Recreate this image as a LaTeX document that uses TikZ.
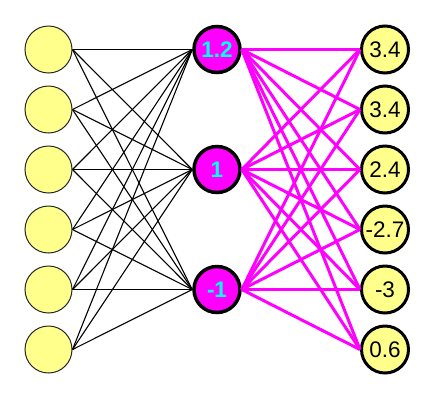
\documentclass[tikz,border=0pt]{standalone}
\usepackage{fontspec}
\setmainfont{Liberation Sans}
\definecolor{ylw}{RGB}{255,255,140}
\definecolor{mag}{RGB}{255,0,255}
\definecolor{cyn}{RGB}{0,255,255}
\begin{document}
\begin{tikzpicture}[x=1pt,y=-1pt,
  inp/.style={circle,draw=black!85,line width=1pt,fill=ylw,minimum size=47pt,inner sep=0pt},
  hid/.style={circle,draw=black,line width=3.5pt,fill=mag,minimum size=46pt,inner sep=0pt,
    text=cyn,font=\fontsize{22.5}{22.5}\selectfont\bfseries},
  outn/.style={circle,draw=black,line width=3pt,fill=ylw,minimum size=47pt,inner sep=0pt,
    font=\fontsize{22.5}{22.5}\selectfont},
  bedge/.style={draw=black,line width=1.1pt},
  medge/.style={draw=mag,line width=3pt}]
\useasboundingbox (0,0) rectangle (435,400);
% input nodes
\foreach \i/\y in {1/49.5,2/109.5,3/169.5,4/229.5,5/289.5,6/349.5}
  \node[inp] (i\i) at (48.5,\y) {};
% hidden nodes
\node[hid] (h1) at (217,49.5) {1.2};
\node[hid] (h2) at (217,169.5) {1};
\node[hid] (h3) at (217,289.5) {-1};
% output nodes
\node[outn] (o1) at (385,49.5) {3.4};
\node[outn] (o2) at (385,109.5) {3.4};
\node[outn] (o3) at (385,169.5) {2.4};
\node[outn] (o4) at (385,229.5) {-2.7};
\node[outn] (o5) at (385,289.5) {-3};
\node[outn] (o6) at (385,349.5) {0.6};
% edges
\foreach \i in {1,...,6}
  \foreach \h in {1,2,3}
    \draw[bedge] (i\i.east) -- (h\h.west);
\foreach \h in {1,2,3}
  \foreach \o in {1,...,6}
    \draw[medge] (h\h.east) -- (o\o.west);
\end{tikzpicture}
\end{document}
